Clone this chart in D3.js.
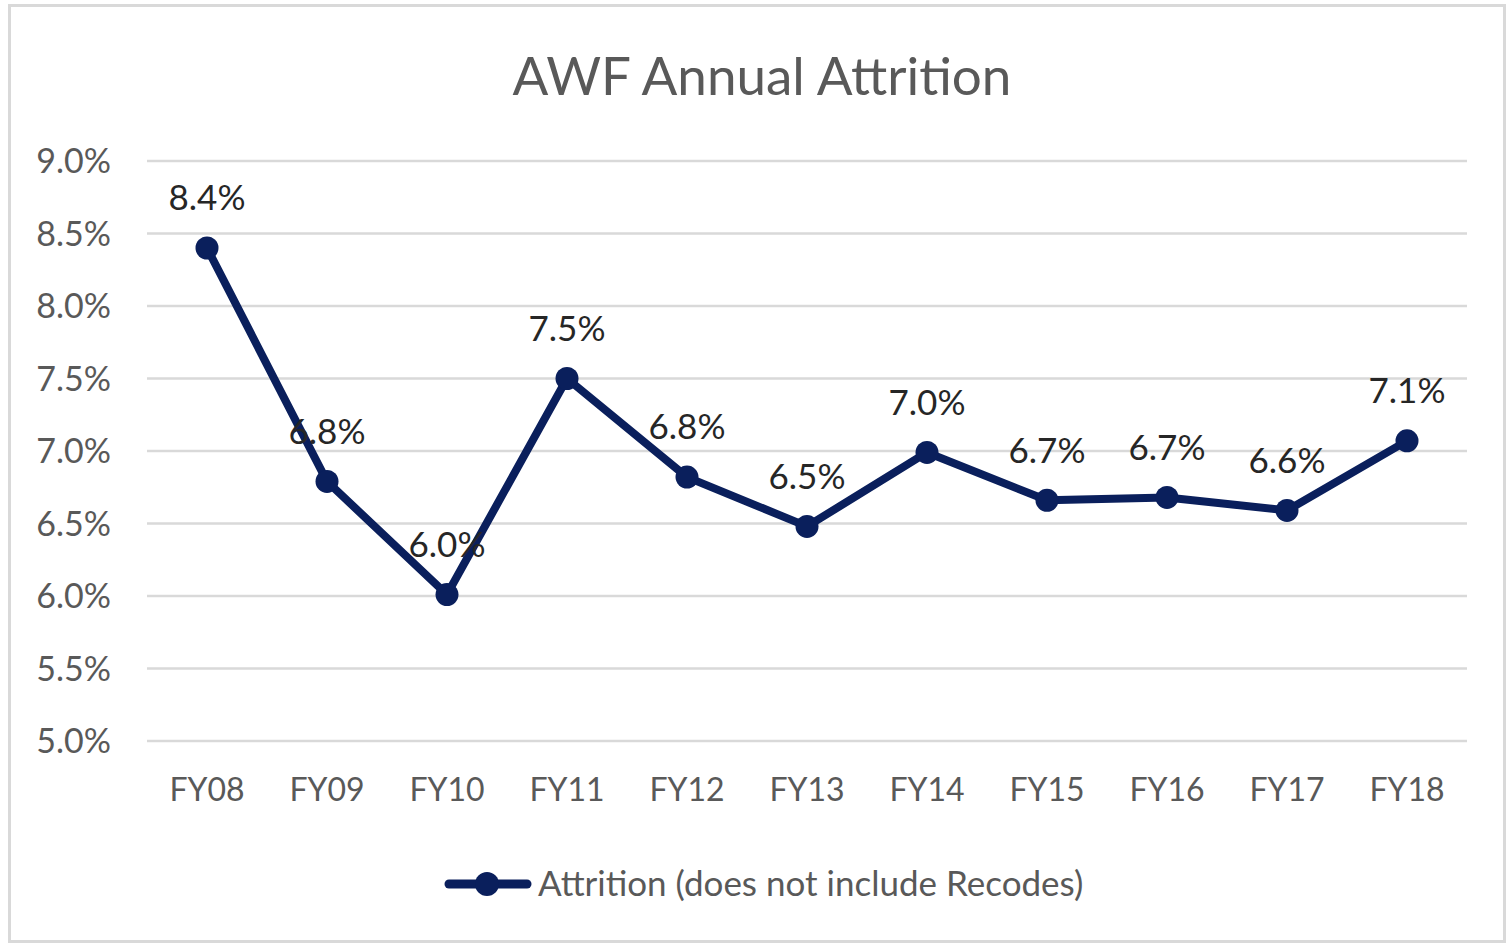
<!DOCTYPE html>
<html>
<head>
<meta charset="utf-8">
<script src="https://cdn.jsdelivr.net/npm/d3@7"></script>
<style>
  html, body { margin: 0; padding: 0; background: #fff; }
  svg { display: block; font-family: Lato, "Open Sans", sans-serif; }
</style>
</head>
<body>
<svg id="chart" width="1509" height="944"></svg>
<script>
const title = "AWF Annual Attrition";
const categories = ["FY08","FY09","FY10","FY11","FY12","FY13","FY14","FY15","FY16","FY17","FY18"];
const attrition = [8.40, 6.79, 6.01, 7.50, 6.82, 6.48, 6.99, 6.66, 6.68, 6.59, 7.07];
const yTicks = [5.0, 5.5, 6.0, 6.5, 7.0, 7.5, 8.0, 8.5, 9.0];
const seriesName = "Attrition (does not include Recodes)";

const svg = d3.select("#chart");
const W = 1509, H = 944;
const margin = {left: 147, right: 42, top: 161, bottom: 203};

// border
svg.append("rect").attr("x", 9.5).attr("y", 5.5).attr("width", W - 14).attr("height", H - 8)
  .attr("fill", "#fff").attr("stroke", "#d9d9d9").attr("stroke-width", 3);

const x = d3.scaleBand().domain(categories).range([margin.left, W - margin.right]);
const y = d3.scaleLinear().domain([5, 9]).range([H - margin.bottom, margin.top]);

// title
svg.append("text").attr("x", 762).attr("y", 95).attr("text-anchor", "middle")
  .attr("font-size", 53).attr("fill", "#595959").text(title);

// gridlines
svg.append("g").selectAll("line").data(yTicks).join("line")
  .attr("x1", margin.left).attr("x2", W - margin.right)
  .attr("y1", d => y(d)).attr("y2", d => y(d))
  .attr("stroke", "#d9d9d9").attr("stroke-width", 2.5);

// y axis
const yAxis = d3.axisLeft(y).tickValues(yTicks).tickFormat(d => d.toFixed(1) + "%").tickSize(0).tickPadding(36);
const gy = svg.append("g").attr("transform", `translate(${margin.left},0)`).call(yAxis);
gy.select(".domain").remove();
gy.selectAll("text").attr("font-size", 34).attr("fill", "#595959").attr("font-family", "Lato, sans-serif").attr("dy", "0.35em");

// x axis
const xAxis = d3.axisBottom(x).tickSize(0).tickPadding(37);
const gx = svg.append("g").attr("transform", `translate(0,${H - margin.bottom})`).call(xAxis);
gx.select(".domain").remove();
gx.selectAll("text").attr("font-size", 32).attr("fill", "#595959").attr("font-family", "Lato, sans-serif").attr("dy", "0.71em");

const color = "#0a1f5c";
const pts = categories.map((c, i) => ({c, v: attrition[i]}));
const line = d3.line().x(d => x(d.c) + x.bandwidth() / 2).y(d => y(d.v));

svg.append("path").datum(pts).attr("d", line).attr("fill", "none")
  .attr("stroke", color).attr("stroke-width", 8).attr("stroke-linejoin", "round").attr("stroke-linecap", "round");

svg.append("g").selectAll("circle").data(pts).join("circle")
  .attr("cx", d => x(d.c) + x.bandwidth() / 2).attr("cy", d => y(d.v)).attr("r", 11.5).attr("fill", color);

svg.append("g").selectAll("text").data(pts).join("text")
  .attr("x", d => x(d.c) + x.bandwidth() / 2).attr("y", d => y(d.v) - 50)
  .attr("dy", "0.35em").attr("text-anchor", "middle")
  .attr("font-size", 35).attr("fill", "#262626").text(d => d.v.toFixed(1) + "%");

// legend
const lg = svg.append("g");
lg.append("line").attr("x1", 449).attr("x2", 527).attr("y1", 884).attr("y2", 884)
  .attr("stroke", color).attr("stroke-width", 9).attr("stroke-linecap", "round");
lg.append("circle").attr("cx", 487).attr("cy", 884).attr("r", 12).attr("fill", color);
lg.append("text").attr("x", 538).attr("y", 884).attr("dy", "0.35em")
  .attr("font-size", 35).attr("fill", "#595959").text(seriesName);
</script>
</body>
</html>
